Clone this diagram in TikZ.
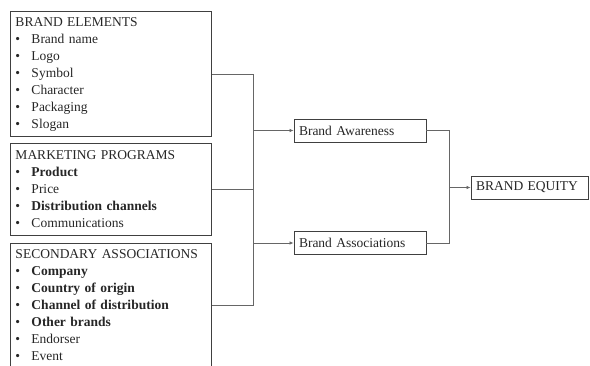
\documentclass[tikz,border=0pt]{standalone}
\usepackage{fontspec}
\setmainfont{Liberation Serif}
\usetikzlibrary{arrows.meta}
\newcommand{\bul}[1]{\makebox[16pt][l]{\textbullet}#1}
\tikzset{
  srcbox/.style={draw=black!75,line width=1pt,anchor=north west,text width=191pt,
    inner xsep=5pt,inner ysep=0pt,align=left,font=\fontsize{13.5}{17}\selectfont,text=black!85},
  midbox/.style={draw=black!75,line width=0.9pt,inner xsep=5pt,inner ysep=0pt,
    minimum height=23pt,align=left,font=\fontsize{13.5}{17}\selectfont,text=black!85},
  link/.style={draw=black!60,line width=0.7pt},
  arr/.style={link,-{Latex[length=4pt,width=3.5pt]}}
}
\begin{document}
\begin{tikzpicture}[x=1pt,y=-1pt]
		\useasboundingbox (0,0) rectangle (590,365);
		\clip (0,0) rectangle (590,365);
		\node[srcbox,minimum height=125pt] (elements) at (10,11) {BRAND ELEMENTS\\
			\bul{Brand name}\\ \bul{Logo}\\ \bul{Symbol}\\ \bul{Character}\\
			\bul{Packaging}\\ \bul{Slogan}};
		\node[srcbox,minimum height=92pt] (programs) at (10,143) {MARKETING PROGRAMS\\
			\bul{\textbf{Product}}\\ \bul{Price}\\ \bul{\textbf{Distribution channels}}\\
			\bul{Communications}};
		\node[srcbox,minimum height=124pt] (secondary) at (10,243) {SECONDARY ASSOCIATIONS\\
			\bul{\textbf{Company}}\\ \bul{\textbf{Country of origin}}\\
			\bul{\textbf{Channel of distribution}}\\ \bul{\textbf{Other brands}}\\
			\bul{Endorser}\\ \bul{Event}};
		\node[midbox,text width=122pt] (awareness) at (360,130.5) {Brand Awareness};
		\node[midbox,text width=122pt] (associations) at (360,243) {Brand Associations};
		\node[midbox,text width=107pt] (equity) at (529.5,187.5) {BRAND EQUITY};
		\coordinate (bus) at (253,0);
		\coordinate (join) at (449,0);
		% left bracket
		\draw[link] (elements.east) -- (elements.east -| bus) -- (secondary.east -| bus) -- (secondary.east);
		\draw[link] (programs.east) -- (programs.east -| bus);
		\draw[arr] (awareness.west -| bus) -- (awareness.west);
		\draw[arr] (associations.west -| bus) -- (associations.west);
		% right bracket
		\draw[link] (awareness.east) -- (awareness.east -| join) -- (associations.east -| join) -- (associations.east);
		\draw[arr] (equity.west -| join) -- (equity.west);
	\end{tikzpicture}
\end{document}
